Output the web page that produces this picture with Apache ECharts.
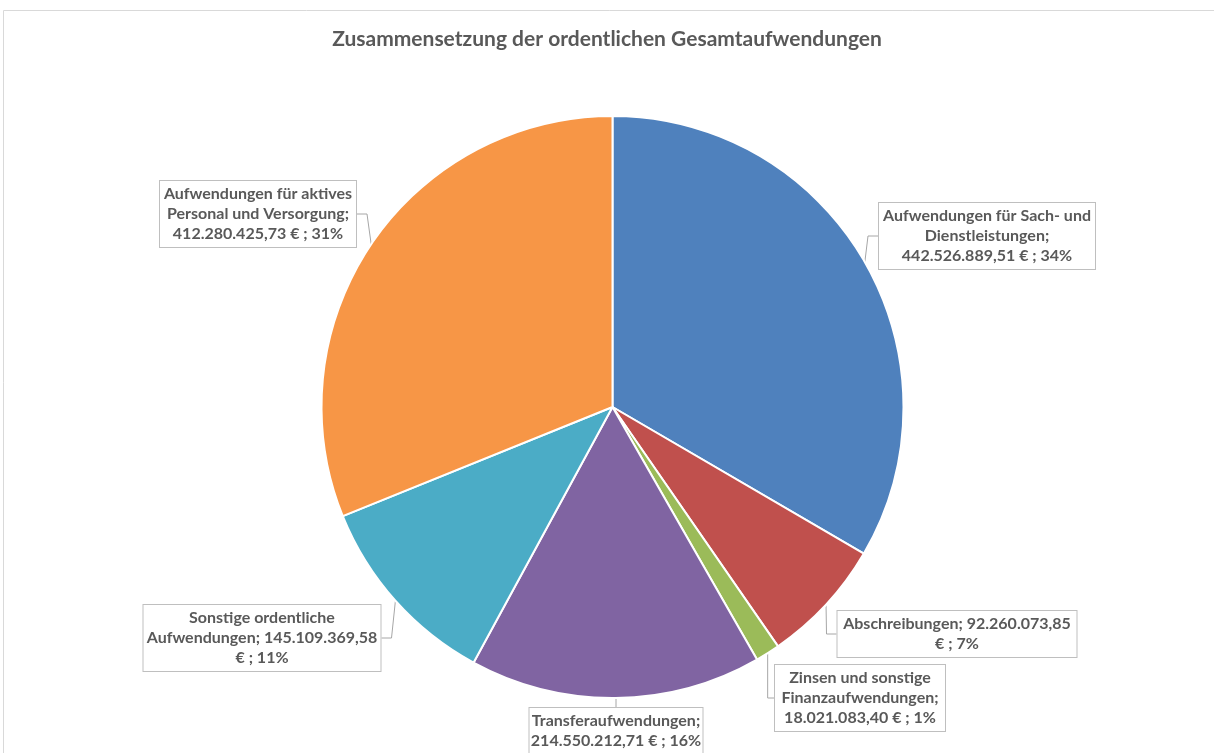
<!DOCTYPE html>
<html>
<head>
<meta charset="utf-8">
<script src="https://cdn.jsdelivr.net/npm/echarts@6/dist/echarts.min.js"></script>
<style>
  html, body { margin: 0; padding: 0; background: #fff; }
  #chart { width: 1214px; height: 753px; }
</style>
</head>
<body>
<div id="chart"></div>
<script>
// Kategorien und Werte (in Euro)
const categories = [
    'Aufwendungen für Sach- und Dienstleistungen',
    'Abschreibungen',
    'Zinsen und sonstige Finanzaufwendungen',
    'Transferaufwendungen',
    'Sonstige ordentliche Aufwendungen',
    'Aufwendungen für aktives Personal und Versorgung'
]
const values = [442526889.51, 92260073.85, 18021083.40, 214550212.71, 145109369.58, 412280425.73]
const colors = ['#4F81BD', '#C0504D', '#9BBB59', '#8064A2', '#4BACC6', '#F79646']

// Zeilenumbruch vor diesen Wörtern (Index im Label-Text)
const lineBreaks = [[4, 5], [2], [3, 4], [1], [2, 4], [3, 6]]

// Label-Boxen: Mittelpunkt und Breite
const labelBoxes = [
    { x: 987, y: 236, w: 206 },
    { x: 957, y: 634, w: 229 },
    { x: 860, y: 698, w: 160 },
    { x: 616, y: 731, w: 163 },
    { x: 262, y: 638, w: 227 },
    { x: 258, y: 214, w: 186 }
]

const fmt = new Intl.NumberFormat('de-DE', { minimumFractionDigits: 2, maximumFractionDigits: 2 })

function labelText(p) {
    const words = (p.name + '; ' + fmt.format(p.value) + ' € ; ' + p.percent + '%').split(' ')
    const br = lineBreaks[p.dataIndex]
    return words.map((w, i) => (i > 0 ? (br.indexOf(i) >= 0 ? '\n' : ' ') : '') + w).join('')
}

const chart = echarts.init(document.getElementById('chart'))
chart.setOption({
    animation: false,
    textStyle: { fontFamily: 'Lato' },
    title: {
        text: 'Zusammensetzung der ordentlichen Gesamtaufwendungen',
        left: 'center',
        top: 24,
        textStyle: { fontFamily: 'Lato', fontSize: 21, fontWeight: 'bold', color: '#595959' }
    },
    graphic: [{
        type: 'rect',
        shape: { x: 3.5, y: 10.5, width: 1400, height: 900 },
        style: { fill: 'none', stroke: '#D9D9D9', lineWidth: 1 },
        silent: true
    }],
    series: [{
        type: 'pie',
        center: [612.5, 407],
        radius: 291,
        startAngle: 90,
        clockwise: true,
        percentPrecision: 0,
        data: categories.map((name, i) => ({
            name: name,
            value: values[i],
            itemStyle: { color: colors[i] },
            label: { width: labelBoxes[i].w }
        })),
        itemStyle: { borderColor: '#fff', borderWidth: 2 },
        label: {
            show: true,
            formatter: labelText,
            overflow: 'none',
            fontFamily: 'Lato',
            fontSize: 16,
            fontWeight: 'bold',
            lineHeight: 20,
            color: '#595959',
            align: 'center',
            backgroundColor: '#fff',
            borderColor: '#BFBFBF',
            borderWidth: 1,
            padding: [3, 5]
        },
        labelLine: {
            show: true,
            length: 10,
            length2: 10,
            lineStyle: { color: '#A6A6A6', width: 1 }
        },
        labelLayout: params => {
            const b = labelBoxes[params.dataIndex]
            return { x: b.x, y: b.y, align: 'center', verticalAlign: 'middle' }
        }
    }]
})
</script>
</body>
</html>
